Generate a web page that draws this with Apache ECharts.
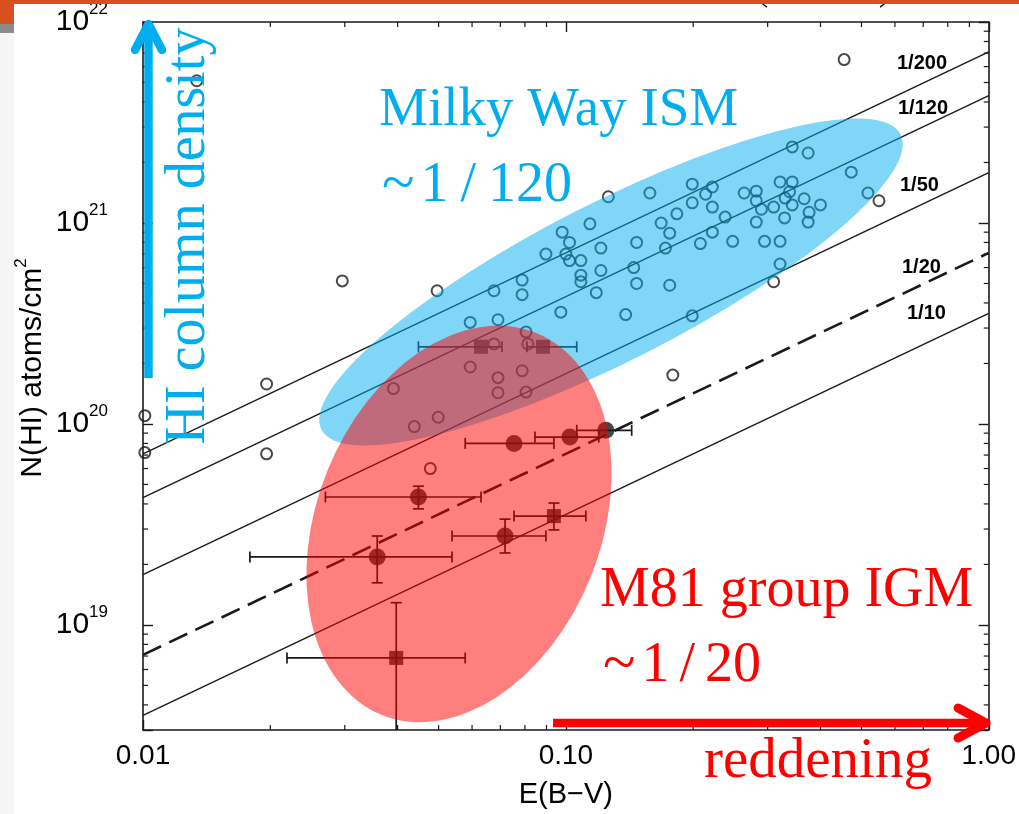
<!DOCTYPE html>
<html>
<head>
<meta charset="utf-8">
<script src="https://cdn.jsdelivr.net/npm/echarts@6/dist/echarts.min.js"></script>
<style>
html,body{margin:0;padding:0;background:#ffffff;}
#chart{width:1019px;height:814px;}
</style>
</head>
<body>
<div id="chart"></div>
<script>
// ---------------- DATA ----------------
// Milky Way sight lines (open circles): E(B-V) and N(HI) [atoms/cm^2]
const mwEBV = [0.0134,0.0101,0.0101,0.0196,0.0196,0.0296,0.455,0.55,0.179,0.0496,
  0.343,0.374,0.473,0.518,0.199,0.222,0.214,0.126,0.158,0.321,
  0.343,0.264,0.282,0.338,0.330,0.282,0.366,0.400,0.343,0.310,
  0.290,0.376,0.329,0.374,0.282,0.199,0.222,0.238,0.183,0.168,
  0.176,0.114,0.098,0.102,0.0897,0.100,0.102,0.1085,0.121,0.147,
  0.172,0.222,0.208,0.248,0.295,0.321,0.121,0.1085,0.1085,0.1447,
  0.118,0.147,0.176,0.321,0.310,0.0973,0.1385,0.199,0.0788,0.0788,
  0.0676,0.0594,0.0691,0.0805,0.0676,0.0813,0.0594,0.0691,0.0788,0.0391,
  0.0691,0.0805,0.0438,0.0499,0.0478];
const mwNHI = [5.1e21,1.1e20,7.2e19,1.58e20,7.1e19,5.15e20,6.5e21,1.29e21,1.75e20,4.6e20,
  2.39e21,2.23e21,1.79e21,1.41e21,1.56e21,1.51e21,1.39e21,1.35e21,1.41e21,1.6e21,
  1.6e21,1.41e21,1.44e21,1.43e21,1.33e21,1.29e21,1.32e21,1.23e21,1.23e21,1.2e21,
  1.17e21,1.13e21,1.06e21,1.01e21,1.01e21,1.26e21,1.2e21,1.07e21,1.11e21,1.0e21,
  8.9e20,9.9e20,9.0e20,8.0e20,7.0e20,7.0e20,6.5e20,6.5e20,7.5e20,8.0e20,
  7.5e20,9.0e20,7.9e20,8.1e20,8.1e20,8.1e20,5.8e20,5.5e20,5.1e20,6.0e20,
  4.5e20,5.0e20,4.9e20,6.25e20,5.1e20,3.6e20,3.5e20,3.45e20,5.2e20,4.4e20,
  4.6e20,3.2e20,3.3e20,2.87e20,2.5e20,2.5e20,1.92e20,1.7e20,1.84e20,1.5e20,
  1.43e20,1.44e20,9.7e19,1.08e20,6.0e19];

// M81 group IGM, filled circles
const m81cEBV   = [0.0754, 0.1022, 0.1243, 0.0448, 0.0718, 0.0358];
const m81cNHI   = [8.0e19, 8.6e19, 9.3e19, 4.33e19, 2.77e19, 2.18e19];
const m81cEBVlo = [0.0578, 0.0845, 0.1061, 0.027, 0.0538, 0.0179];
const m81cEBVhi = [0.0937, 0.1196, 0.1431, 0.063, 0.0897, 0.0538];
const m81cNHIlo = [null, null, null, 3.78e19, 2.28e19, 1.62e19];
const m81cNHIhi = [null, null, null, 4.9e19, 3.36e19, 2.77e19];

// M81 group IGM, filled squares
const m81sEBV   = [0.063, 0.0883, 0.0937, 0.0397];
const m81sNHI   = [2.42e20, 2.42e20, 3.48e19, 6.85e18];
const m81sEBVlo = [0.0448, 0.0809, 0.0754, 0.0219];
const m81sEBVhi = [0.0706, 0.1061, 0.1115, 0.0578];
const m81sNHIlo = [null, null, 2.97e19, 2.0e18];
const m81sNHIhi = [null, null, 4.04e19, 1.29e19];

// Dust-to-gas reference lines
const ratioLabels = ['1/200', '1/120', '1/50', '1/20', '1/10'];
const ratioLineEBV = [0.01, 1.0];
const ratioNHIstart = [7.1e19, 4.3e19, 1.78e19, 7.1e18, 3.55e18];
const ratioNHIend   = [7.1e21, 4.3e21, 1.78e21, 7.1e20, 3.55e20];
const ratioDashed = [false, false, false, true, false];

// Axis ranges and tick labels
const xRange = [0.01, 1.0];
const yRange = [3.0e18, 1.0e22];
const xTickLabels = {'-2': '0.01', '-1': '0.10', '0': '1.00'};
const yTickExponents = [19, 20, 21, 22];
const xMinorTicks = [0.02,0.03,0.04,0.05,0.06,0.07,0.08,0.09,0.2,0.3,0.4,0.5,0.6,0.7,0.8,0.9];
const yMinorTicks = [4e18,5e18,6e18,7e18,8e18,9e18,
  2e19,3e19,4e19,5e19,6e19,7e19,8e19,9e19,
  2e20,3e20,4e20,5e20,6e20,7e20,8e20,9e20,
  2e21,3e21,4e21,5e21,6e21,7e21,8e21,9e21];

// ---------------- CHART ----------------
const INK = '#1a1a1a';
const CYAN = '#00AEEF';
const RED = '#FF0000';

const chart = echarts.init(document.getElementById('chart'), null, {renderer: 'canvas'});

function xFmt(v) {
  const e = Math.round(Math.log10(v));
  return xTickLabels[String(e)] || '';
}
function yFmt(v) {
  const l = Math.log10(v);
  const e = Math.round(l);
  if (Math.abs(l - e) > 0.01 || yTickExponents.indexOf(e) < 0) return '';
  return '{b|10}{s|' + e + '}';
}

const lineSeries = ratioLabels.map((lab, i) => ({
  type: 'line',
  name: lab,
  xAxisIndex: 0, yAxisIndex: 0,
  data: [[ratioLineEBV[0], ratioNHIstart[i]], [ratioLineEBV[1], ratioNHIend[i]]],
  showSymbol: false,
  symbol: 'none',
  clip: true,
  silent: true,
  z: 2,
  lineStyle: ratioDashed[i]
    ? {color: INK, width: 2.6, type: [20, 9]}
    : {color: INK, width: 1.4, type: 'solid'}
}));

function errData(xs, ys, xlo, xhi, ylo, yhi) {
  return xs.map((x, i) => [x, ys[i], xlo[i], xhi[i],
    ylo[i] == null ? ys[i] : ylo[i], yhi[i] == null ? ys[i] : yhi[i]]);
}
const errAll = errData(m81cEBV, m81cNHI, m81cEBVlo, m81cEBVhi, m81cNHIlo, m81cNHIhi)
  .concat(errData(m81sEBV, m81sNHI, m81sEBVlo, m81sEBVhi, m81sNHIlo, m81sNHIhi));

function renderErr(params, api) {
  const x = api.value(0), y = api.value(1);
  const xlo = api.value(2), xhi = api.value(3), ylo = api.value(4), yhi = api.value(5);
  const st = {stroke: INK, lineWidth: 1.7};
  const c = 5.5;
  const kids = [];
  const a = api.coord([xlo, y]), b = api.coord([xhi, y]);
  kids.push({type: 'line', shape: {x1: a[0], y1: a[1], x2: b[0], y2: b[1]}, style: st});
  kids.push({type: 'line', shape: {x1: a[0], y1: a[1] - c, x2: a[0], y2: a[1] + c}, style: st});
  kids.push({type: 'line', shape: {x1: b[0], y1: b[1] - c, x2: b[0], y2: b[1] + c}, style: st});
  if (ylo !== y || yhi !== y) {
    const p = api.coord([x, ylo]), q = api.coord([x, yhi]);
    kids.push({type: 'line', shape: {x1: p[0], y1: p[1], x2: q[0], y2: q[1]}, style: st});
    kids.push({type: 'line', shape: {x1: p[0] - c, y1: p[1], x2: p[0] + c, y2: p[1]}, style: st});
    kids.push({type: 'line', shape: {x1: q[0] - c, y1: q[1], x2: q[0] + c, y2: q[1]}, style: st});
  }
  return {type: 'group', children: kids};
}

function renderXMinor(params, api) {
  const v = api.value(0);
  const b = api.coord([v, yRange[0]]), t = api.coord([v, yRange[1]]);
  const st = {stroke: INK, lineWidth: 1.2};
  return {type: 'group', children: [
    {type: 'line', shape: {x1: b[0], y1: b[1], x2: b[0], y2: b[1] - 5}, style: st},
    {type: 'line', shape: {x1: t[0], y1: t[1], x2: t[0], y2: t[1] + 5}, style: st}
  ]};
}
function renderYMinor(params, api) {
  const v = api.value(1);
  const l = api.coord([xRange[0], v]), r = api.coord([xRange[1], v]);
  const st = {stroke: INK, lineWidth: 1.2};
  return {type: 'group', children: [
    {type: 'line', shape: {x1: l[0], y1: l[1], x2: l[0] + 5, y2: l[1]}, style: st},
    {type: 'line', shape: {x1: r[0], y1: r[1], x2: r[0] - 5, y2: r[1]}, style: st}
  ]};
}

const axisCommon = {
  type: 'log', logBase: 10,
  splitLine: {show: false},
  axisLine: {show: true, lineStyle: {color: INK, width: 1.6}},
  axisTick: {show: true, inside: true, length: 10, lineStyle: {color: INK, width: 1.4}},
  minorTick: {show: false}
};

const serif = '"Liberation Serif"';
const option = {
  animation: false,
  backgroundColor: '#ffffff',
  grid: {left: 143, top: 22, width: 848, height: 708, containLabel: false, show: false},
  xAxis: [
    Object.assign({}, axisCommon, {
      position: 'bottom', min: xRange[0], max: xRange[1],
      name: 'E(B\u2212V)', nameLocation: 'middle', nameGap: 50,
      nameTextStyle: {fontFamily: 'Liberation Sans', fontSize: 29, color: '#000'},
      axisLabel: {formatter: xFmt, fontFamily: 'Liberation Sans', fontSize: 28, color: '#000', margin: 12,
        showMinLabel: true, showMaxLabel: true}
    }),
    Object.assign({}, axisCommon, {
      position: 'top', min: xRange[0], max: xRange[1],
      axisLabel: {show: false}
    })
  ],
  yAxis: [
    Object.assign({}, axisCommon, {
      position: 'left', min: yRange[0], max: yRange[1],
      axisLabel: {formatter: yFmt, margin: 35, color: '#000',
        showMinLabel: true, showMaxLabel: true,
        rich: {
          b: {fontFamily: 'Liberation Sans', fontSize: 30, lineHeight: 42, color: '#000'},
          s: {fontFamily: 'Liberation Sans', fontSize: 17, lineHeight: 17, verticalAlign: 'top', color: '#000'}
        }}
    }),
    Object.assign({}, axisCommon, {
      position: 'right', min: yRange[0], max: yRange[1],
      axisLabel: {show: false}
    })
  ],
  series: lineSeries.concat([
    {
      type: 'scatter', name: 'Milky Way',
      data: mwEBV.map((x, i) => [x, mwNHI[i]]),
      symbol: 'circle', symbolSize: 11, z: 3, silent: true,
      itemStyle: {color: 'rgba(0,0,0,0)', borderColor: INK, borderWidth: 2}
    },
    {
      type: 'custom', name: 'errors', renderItem: renderErr,
      data: errAll, encode: {x: 0, y: 1}, clip: true, z: 4, silent: true
    },
    {
      type: 'scatter', name: 'M81 circles',
      data: m81cEBV.map((x, i) => [x, m81cNHI[i]]),
      symbol: 'circle', symbolSize: 17, z: 5, silent: true,
      itemStyle: {color: INK}
    },
    {
      type: 'scatter', name: 'M81 squares',
      data: m81sEBV.map((x, i) => [x, m81sNHI[i]]),
      symbol: 'rect', symbolSize: 14, z: 5, silent: true,
      itemStyle: {color: INK}
    },
    {
      type: 'custom', name: 'xminor', renderItem: renderXMinor,
      data: xMinorTicks.map(v => [v, 1e20]), encode: {x: 0, y: 1}, clip: false, z: 6, silent: true
    },
    {
      type: 'custom', name: 'yminor', renderItem: renderYMinor,
      data: yMinorTicks.map(v => [0.1, v]), encode: {x: 0, y: 1}, clip: false, z: 6, silent: true
    }
  ]),
  graphic: [
    // reference-line labels
    {type: 'text', x: 897, y: 63, z: 30, style: {text: ratioLabels[0], font: 'bold 20px "Liberation Sans"', fill: '#000', verticalAlign: 'middle'}},
    {type: 'text', x: 898, y: 108, z: 30, style: {text: ratioLabels[1], font: 'bold 20px "Liberation Sans"', fill: '#000', verticalAlign: 'middle'}},
    {type: 'text', x: 900, y: 185, z: 30, style: {text: ratioLabels[2], font: 'bold 20px "Liberation Sans"', fill: '#000', verticalAlign: 'middle'}},
    {type: 'text', x: 902, y: 267, z: 30, style: {text: ratioLabels[3], font: 'bold 20px "Liberation Sans"', fill: '#000', verticalAlign: 'middle'}},
    {type: 'text', x: 907, y: 313, z: 30, style: {text: ratioLabels[4], font: 'bold 20px "Liberation Sans"', fill: '#000', verticalAlign: 'middle'}},
    // y axis title
    {type: 'text', x: 33, y: 368, rotation: Math.PI / 2, z: 30,
      style: {text: 'N(HI) atoms/cm{s|2}', fill: '#000', align: 'center', verticalAlign: 'middle',
        font: '30px "Liberation Sans"', lineHeight: 40,
        rich: {
          s: {fontFamily: 'Liberation Sans', fontSize: 17, lineHeight: 17, verticalAlign: 'top', fill: '#000'}
        }}},
    // overlay ellipses
    {type: 'circle', shape: {cx: 0, cy: 0, r: 100}, x: 611, y: 282, scaleX: 3.25, scaleY: 0.79,
      rotation: 27 * Math.PI / 180, z: 20, silent: true, style: {fill: 'rgba(0,174,239,0.5)'}},
    {type: 'circle', shape: {cx: 0, cy: 0, r: 100}, x: 459, y: 524, scaleX: 1.42, scaleY: 2.06,
      rotation: -22 * Math.PI / 180, z: 21, silent: true, style: {fill: 'rgba(255,0,0,0.5)'}},
    // annotation arrows
    {type: 'line', z: 25, shape: {x1: 148.5, y1: 378, x2: 148.5, y2: 28}, style: {stroke: CYAN, lineWidth: 8.5, lineCap: 'butt'}},
    {type: 'polyline', z: 25, shape: {points: [[135, 50], [148.5, 24], [162, 50]]}, style: {stroke: CYAN, lineWidth: 8.5, lineCap: 'round', lineJoin: 'round', fill: null}},
    {type: 'line', z: 25, shape: {x1: 553, y1: 723, x2: 982, y2: 723}, style: {stroke: RED, lineWidth: 8.5, lineCap: 'butt'}},
    {type: 'polyline', z: 25, shape: {points: [[958, 708], [986, 723], [958, 738]]}, style: {stroke: RED, lineWidth: 9, lineCap: 'round', lineJoin: 'round', fill: null}},
    // annotation texts
    {type: 'text', x: 379, y: 111, z: 30, style: {text: 'Milky Way ISM', font: '55px ' + serif, fill: CYAN, verticalAlign: 'middle'}},
    {type: 'text', x: 382, y: 186, z: 30, style: {
      text: '{t|~}{o|1}{s|/}{n|120}', fill: CYAN, verticalAlign: 'middle', font: '56px ' + serif,
      rich: {
        t: {fontFamily: 'Liberation Serif', fontSize: 60, fill: CYAN, padding: [0, 6, 0, 0]},
        o: {fontFamily: 'Liberation Serif', fontSize: 56, fill: CYAN, padding: [0, 12, 0, 0]},
        s: {fontFamily: 'Liberation Serif', fontSize: 56, fill: CYAN, padding: [0, 12, 0, 0]},
        n: {fontFamily: 'Liberation Serif', fontSize: 56, fill: CYAN}
      }}},
    {type: 'text', x: 189, y: 236, rotation: Math.PI / 2, z: 30, style: {text: 'HI column density', font: '56px ' + serif, fill: CYAN, align: 'center', verticalAlign: 'middle'}},
    {type: 'text', x: 600, y: 591, z: 30, style: {text: 'M81 group IGM', font: '56px ' + serif, fill: RED, verticalAlign: 'middle'}},
    {type: 'text', x: 603, y: 666, z: 30, style: {
      text: '{t|~}{o|1}{s|/}{n|20}', fill: RED, verticalAlign: 'middle', font: '56px ' + serif,
      rich: {
        t: {fontFamily: 'Liberation Serif', fontSize: 60, fill: RED, padding: [0, 6, 0, 0]},
        o: {fontFamily: 'Liberation Serif', fontSize: 56, fill: RED, padding: [0, 10, 0, 0]},
        s: {fontFamily: 'Liberation Serif', fontSize: 56, fill: RED, padding: [0, 10, 0, 0]},
        n: {fontFamily: 'Liberation Serif', fontSize: 56, fill: RED}
      }}},
    {type: 'text', x: 704, y: 762, z: 30, style: {text: 'reddening', font: '57px ' + serif, fill: RED, verticalAlign: 'middle'}},
    // slide decoration: top bar and left strip
    {type: 'rect', z: 40, shape: {x: 0, y: 0, width: 1019, height: 4}, style: {fill: '#D8501E'}},
    {type: 'rect', z: 40, shape: {x: 0, y: 0, width: 14, height: 24}, style: {fill: '#D8501E'}},
    {type: 'rect', z: 40, shape: {x: 0, y: 24, width: 14, height: 9}, style: {fill: '#8E8A88'}},
    {type: 'rect', z: 1, shape: {x: 0, y: 33, width: 14, height: 781}, style: {fill: '#f5f5f5'}},
    {type: 'arc', z: 39, shape: {cx: 778, cy: -12, r: 22, startAngle: 120 * Math.PI / 180, endAngle: 160 * Math.PI / 180, clockwise: true}, style: {stroke: '#000', lineWidth: 1.5, fill: null}},
    {type: 'arc', z: 39, shape: {cx: 869, cy: -12, r: 22, startAngle: 20 * Math.PI / 180, endAngle: 60 * Math.PI / 180, clockwise: true}, style: {stroke: '#000', lineWidth: 1.5, fill: null}}
  ]
};

chart.setOption(option);
</script>
</body>
</html>
